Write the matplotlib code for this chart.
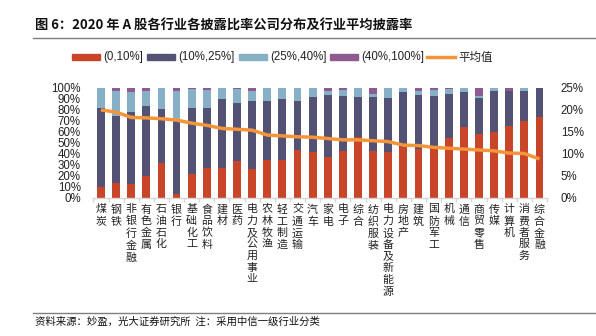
import matplotlib
matplotlib.use("Agg")
import matplotlib.pyplot as plt
from matplotlib.patches import Rectangle
from matplotlib.lines import Line2D
import numpy as np

plt.rcParams['font.family'] = ['Liberation Sans', 'Noto Sans CJK SC', 'DejaVu Sans']

categories = ["煤炭", "钢铁", "非银行金融", "有色金属", "石油石化", "银行", "基础化工", "食品饮料",
              "建材", "医药", "电力及公用事业", "农林牧渔", "轻工制造", "交通运输", "汽车", "家电",
              "电子", "综合", "纺织服装", "电力设备及新能源", "房地产", "建筑", "国防军工", "机械",
              "通信", "商贸零售", "传媒", "计算机", "消费者服务", "综合金融"]

s_0_10 = [10, 13, 12, 19.5, 31, 3, 21, 27, 26.5, 33, 26, 34.5, 34, 43, 41, 37, 42.5, 55, 42, 41,
          45.5, 44.5, 46, 54.5, 64.5, 57.5, 60, 65, 70, 73.5]
s_10_25 = [71, 61, 65.5, 63.5, 49.5, 68.5, 60.5, 54, 63.5, 52.5, 61.5, 53, 55.5, 44.5, 50, 56, 50,
           36.5, 49.5, 49.5, 50, 48.5, 46.5, 40, 31, 33, 37, 31.5, 27, 26.5]
s_25_40 = [19, 23, 18.5, 14, 19.5, 25.5, 17, 17, 10, 13, 9.5, 12.5, 10.5, 12.5, 9, 3.5, 5.5, 8.5,
           3, 9.5, 4.5, 4, 5.5, 4, 4.5, 1.5, 3, 0, 3, 0]
s_40_100 = [0, 3, 4, 3, 0, 3, 1.5, 2, 0, 1.5, 3, 0, 0, 0, 0, 3.5, 2, 0, 5.5, 0, 0, 3, 2, 1.5, 0,
            8, 0, 3.5, 0, 0]
avg_rate = [19.9, 19.4, 18.2, 18.1, 17.9, 17.6, 16.9, 16.4, 15.7, 15.5, 15.3, 14.2, 14.0, 13.8,
            13.7, 13.4, 13.1, 13.1, 12.9, 12.7, 11.9, 11.8, 11.4, 11.2, 11.0, 10.8, 10.6, 10.1,
            10.0, 8.75]
legend_labels = ["(0,10%]", "(10%,25%]", "(25%,40%]", "(40%,100%]", "平均值"]

colors = ["#C8452A", "#545274", "#87B0C6", "#8E5B90"]
line_color = "#F5953A"

W, H = 596, 336
fig = plt.figure(figsize=(W / 100, H / 100), dpi=100)

def fx(px):
    return px / W

def fy(py):
    return 1 - py / H

ax = fig.add_axes([fx(93.4), fy(197.5), fx(547) - fx(93.4), fy(87.5) - fy(197.5)])
x = np.arange(len(categories))
series = [s_0_10, s_10_25, s_25_40, s_40_100]
bottom = np.zeros(len(categories))
for vals, c in zip(series, colors):
    v = np.array(vals, dtype=float)
    ax.bar(x, v, 0.52, bottom=bottom, color=c, linewidth=0)
    bottom += v

ax.set_xlim(-0.5, len(categories) - 0.5)
ax.set_ylim(0, 100)
ax.set_yticks(np.arange(0, 101, 10))
ax.set_yticklabels([f"{v}%" for v in range(0, 101, 10)], fontsize=8.3, color="#222222")
ax.tick_params(axis='y', length=0, pad=9)
for sp in ['top', 'left', 'right']:
    ax.spines[sp].set_visible(False)
ax.spines['bottom'].set_color("#D6D6D6")
ax.spines['bottom'].set_linewidth(1.0)

ax.set_xticks(x)
ax.set_xticklabels(['\n'.join(c) for c in categories], fontsize=7.9,
                   family=['Noto Sans CJK SC', 'DejaVu Sans'], linespacing=1.2,
                   va='top', color="#222222")
ax.tick_params(axis='x', length=0, pad=5)
ax.set_xticks(np.arange(-0.5, len(categories), 1), minor=True)
ax.tick_params(axis='x', which='minor', length=3, color="#D6D6D6", width=1)

ax2 = ax.twinx()
ax2.plot(x, np.array(avg_rate) / 100, color=line_color, lw=2.5, solid_joinstyle='round',
         solid_capstyle='butt')
ax2.set_ylim(0, 0.25)
ax2.set_yticks(np.arange(0, 0.251, 0.05))
ax2.set_yticklabels([f"{v}%" for v in range(0, 26, 5)], fontsize=8.3, color="#222222")
ax2.tick_params(axis='y', length=0, pad=10)
for sp in ax2.spines.values():
    sp.set_visible(False)

# Title and rules
fig.text(fx(35), fy(26), "图 6：2020 年 A 股各行业各披露比率公司分布及行业平均披露率",
         fontsize=9.5, fontweight='bold', family=['Noto Sans CJK SC', 'DejaVu Sans'],
         va='center', ha='left', color="#111111")
fig.add_artist(Line2D([fx(33), 1.0], [fy(37.5), fy(37.5)], color="#7F7F7F", lw=1.0))
fig.add_artist(Line2D([fx(33), 1.0], [fy(313), fy(313)], color="#7F7F7F", lw=1.0))
fig.text(fx(35), fy(322), "资料来源：妙盈，光大证券研究所  注：采用中信一级行业分类",
         fontsize=7.5, family=['Noto Sans CJK SC', 'DejaVu Sans'], va='center', ha='left',
         color="#111111")

# Legend
patch_x = [72, 147, 239, 330]
for px, c, lab in zip(patch_x, colors, legend_labels[:4]):
    fig.add_artist(Rectangle((fx(px), fy(60)), fx(28), fy(54) - fy(60), color=c,
                             transform=fig.transFigure))
    fig.text(fx(px + 31), fy(57), lab, fontsize=8.3, va='center', ha='left', color="#222222")
fig.add_artist(Line2D([fx(427), fx(455)], [fy(57), fy(57)], color=line_color, lw=2.5))
fig.text(fx(458), fy(57), legend_labels[4], fontsize=8.3, va='center', ha='left',
         family=['Noto Sans CJK SC', 'DejaVu Sans'], color="#222222")

fig.savefig("out.png", dpi=100)
